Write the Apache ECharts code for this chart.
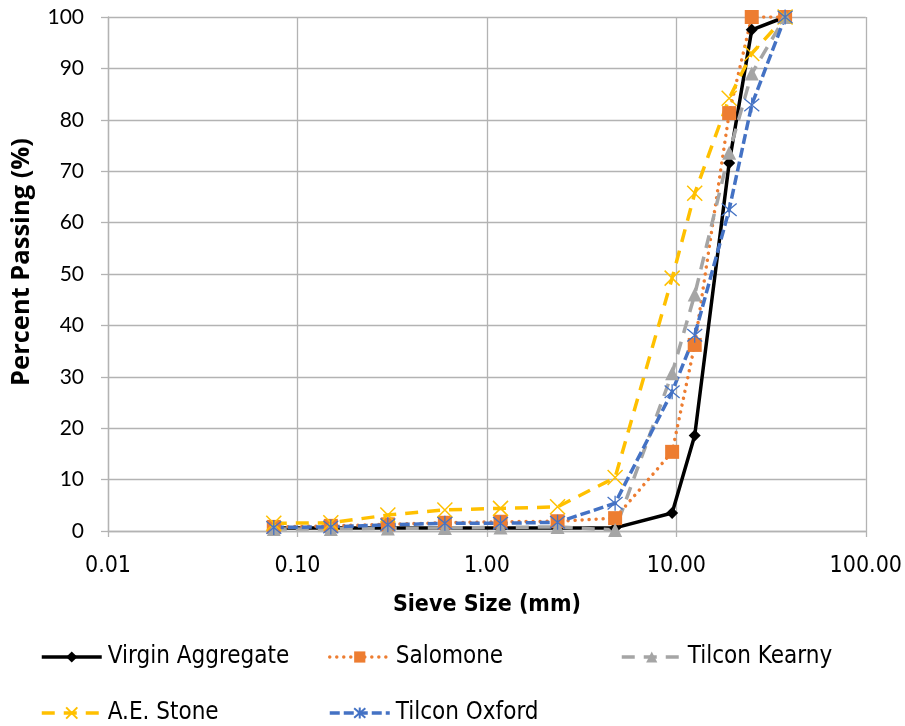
<!DOCTYPE html>
<html>
<head>
<meta charset="utf-8">
<script src="https://cdn.jsdelivr.net/npm/echarts@6/dist/echarts.min.js"></script>
<style>
  html, body { margin: 0; padding: 0; background: #fff; }
  #chart { width: 905px; height: 726px; }
</style>
</head>
<body>
<div id="chart"></div>
<script>
// Sieve openings (mm) and percent passing for each aggregate source
const sieveSizes = [0.075, 0.15, 0.3, 0.6, 1.18, 2.36, 4.75, 9.5, 12.5, 19, 25, 37.5];
const virginAggregate = [0.6, 0.6, 0.6, 0.6, 0.6, 0.6, 0.6, 3.5, 18.6, 71.6, 97.5, 100];
const salomone = [0.8, 1.0, 1.3, 1.6, 1.8, 1.9, 2.5, 15.4, 36.2, 81.3, 100, 100];
const tilconKearny = [0.4, 0.4, 0.5, 0.6, 0.7, 0.8, 0.2, 30.7, 46.0, 73.6, 89.0, 100];
const aeStone = [1.5, 1.6, 3.1, 4.1, 4.4, 4.7, 10.4, 49.2, 65.7, 84.2, 92.9, 100];
const tilconOxford = [0.7, 0.8, 1.2, 1.5, 1.5, 1.7, 5.4, 27.1, 38.1, 62.5, 82.9, 100];

const seriesNames = ['Virgin Aggregate', 'Salomone', 'Tilcon Kearny', 'A.E. Stone', 'Tilcon Oxford'];

const labelFont = "'Liberation Sans Narrow', 'DejaVu Sans Condensed', 'Roboto', sans-serif";
const numFont = "Lato, 'Open Sans', sans-serif";

const pairs = vals => sieveSizes.map((s, i) => [s, vals[i]]);

const crossPath = 'path://M0,0 L10,10 M10,0 L0,10';
const starPath = 'path://M0,0 L10,10 M10,0 L0,10 M5,-1 L5,11';

const LW = 3.5;

function lineSeries(name, vals, color, lineType, symbol, symbolSize, extra) {
  return Object.assign({
    name: name,
    type: 'line',
    data: pairs(vals),
    symbol: symbol,
    symbolSize: symbolSize,
    showSymbol: true,
    lineStyle: { color: color, width: LW, type: lineType },
    itemStyle: { color: color },
    emphasis: { disabled: true },
    animation: false
  }, extra || {});
}

const series = [
  lineSeries(seriesNames[0], virginAggregate, '#000000', 'solid', 'diamond', 12),
  lineSeries(seriesNames[1], salomone, '#ED7D31', [0.01, 7], 'rect', 14,
    { lineStyle: { color: '#ED7D31', width: LW, type: [0.01, 7], cap: 'round' } }),
  lineSeries(seriesNames[2], tilconKearny, '#A5A5A5', [13, 9], 'triangle', 14),
  lineSeries(seriesNames[3], aeStone, '#FFC000', [13, 9], crossPath, 15,
    { itemStyle: { color: '#FFC000', borderColor: '#FFC000', borderWidth: 1.5 } }),
  lineSeries(seriesNames[4], tilconOxford, '#4472C4', [10, 4], starPath, 15,
    { itemStyle: { color: '#4472C4', borderColor: '#4472C4', borderWidth: 1.3 } })
];

// One legend block per entry, laid out in two rows
const legendSlots = [
  { left: 40, top: 645 },
  { left: 328, top: 645 },
  { left: 620, top: 645 },
  { left: 40, top: 701 },
  { left: 328, top: 701 }
];
const legends = seriesNames.map((n, i) => ({
  data: [n],
  left: legendSlots[i].left,
  top: legendSlots[i].top,
  itemWidth: 60,
  itemHeight: 14,
  padding: 0,
  selectedMode: false,
  lineStyle: { width: LW },
  textStyle: { fontFamily: labelFont, fontSize: 24, color: '#000', padding: [0, 0, 0, 1] }
}));

const chart = echarts.init(document.getElementById('chart'), null, { renderer: 'canvas' });
chart.setOption({
  backgroundColor: '#fff',
  animation: false,
  grid: { left: 108, right: 37, top: 17, bottom: 195, containLabel: false },
  legend: legends,
  // vertical axis title
  graphic: [{
    type: 'text',
    x: 22,
    y: 262,
    rotation: Math.PI / 2,
    style: {
      text: 'Percent Passing (%)',
      fontFamily: "'Open Sans', Lato, sans-serif",
      fontSize: 25.5,
      fontWeight: 'bold',
      fill: '#000',
      align: 'center',
      verticalAlign: 'middle'
    }
  }],
  xAxis: {
    type: 'log',
    logBase: 10,
    min: 0.01,
    max: 100,
    name: 'Sieve Size (mm)',
    nameLocation: 'middle',
    nameGap: 63,
    nameTextStyle: { fontFamily: labelFont, fontSize: 23, fontWeight: 'bold', color: '#000' },
    axisLine: { show: true, lineStyle: { color: '#B3B3B3', width: 1.3 } },
    axisTick: { show: true, length: 6, lineStyle: { color: '#B3B3B3', width: 1.3 } },
    minorTick: { show: false },
    splitLine: { show: true, lineStyle: { color: '#B3B3B3', width: 1.3 } },
    axisLabel: {
      margin: 24,
      fontFamily: labelFont,
      fontSize: 23,
      color: '#000',
      formatter: v => Number(v).toFixed(2)
    }
  },
  yAxis: {
    type: 'value',
    min: 0,
    max: 100,
    interval: 10,
    axisLine: { show: true, lineStyle: { color: '#B3B3B3', width: 1.3 } },
    axisTick: { show: true, length: 7, lineStyle: { color: '#B3B3B3', width: 1.3 } },
    splitLine: { show: true, lineStyle: { color: '#B3B3B3', width: 1.3 } },
    axisLabel: { margin: 24, fontFamily: numFont, fontSize: 21, color: '#000' }
  },
  series: series
});
</script>
</body>
</html>
